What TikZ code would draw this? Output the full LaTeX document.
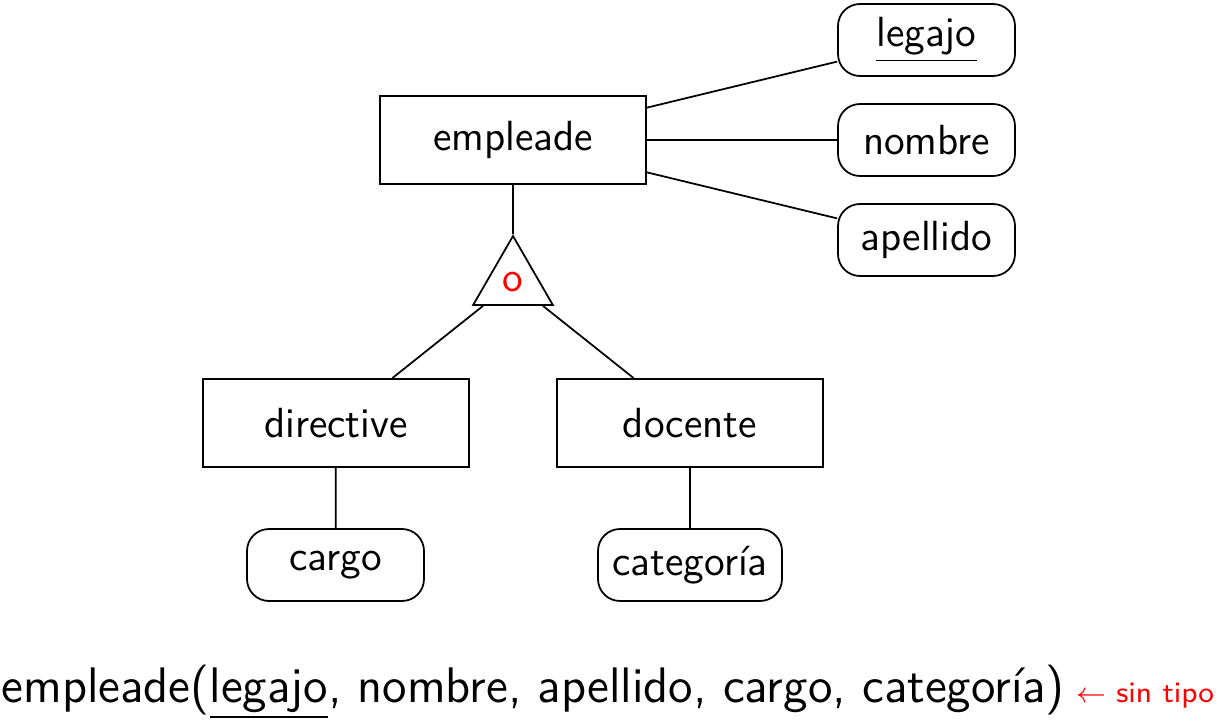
\documentclass[tikz,border=0pt]{standalone}
\usepackage{fontspec}
\usetikzlibrary{shapes.geometric}
\renewcommand{\familydefault}{\sfdefault}
\newlength{\du}
\setlength{\du}{0.1mm}
\tikzset{
  entidad/.style={draw, minimum width=266\du, minimum height=88\du, font=\large},
  atributo/.style={draw, rounded corners=22\du, minimum width=177\du, minimum height=72\du, font=\large},
  jerarquia/.style={draw, regular polygon, regular polygon sides=3, minimum size=92\du, inner sep=0pt, text=red, font=\large},
}

\begin{document}
\begin{tikzpicture}[line width=0.5pt]
\useasboundingbox (0\du,0\du) rectangle (1217.000000\du,-721.000000\du);
% entidades
\node[entidad] (empleade) at (513.000000\du,-140.000000\du){empleade};
\node[entidad] (directive) at (336.000000\du,-423.000000\du){directive};
\node[entidad] (docente) at (690.000000\du,-423.000000\du){docente};
% atributos
\node[atributo] (legajo) at (926.500000\du,-40.000000\du){\underline{legajo}};
\node[atributo] (nombre) at (926.500000\du,-140.000000\du){nombre};
\node[atributo] (apellido) at (926.500000\du,-240.000000\du){apellido};
\node[atributo] (cargo) at (335.500000\du,-565.000000\du){cargo};
\node[atributo, minimum width=184\du] (categoria) at (690.000000\du,-565.000000\du){categoría};
% jerarquia
\node[jerarquia] (tri) at (513.000000\du,-282.000000\du){o};
\draw (empleade) -- (legajo);
\draw (empleade) -- (nombre);
\draw (empleade) -- (apellido);
\draw (empleade) -- (tri.north);
\draw (tri) -- (directive);
\draw (tri) -- (docente);
\draw (directive) -- (cargo);
\draw (docente) -- (categoria);
% esquema
\node[anchor=base west, inner sep=0pt, font=\fontsize{14.2}{17}\selectfont] (esquema) at (1.000000\du,-702.000000\du){empleade(\underline{legajo}, nombre, apellido, cargo, categoría)};
\node[anchor=base east, inner sep=0pt, text=red, font=\fontsize{8.4}{10}\selectfont] (nota) at (1215.000000\du,-702.000000\du){$\leftarrow$ sin tipo};
\end{tikzpicture}
\end{document}
